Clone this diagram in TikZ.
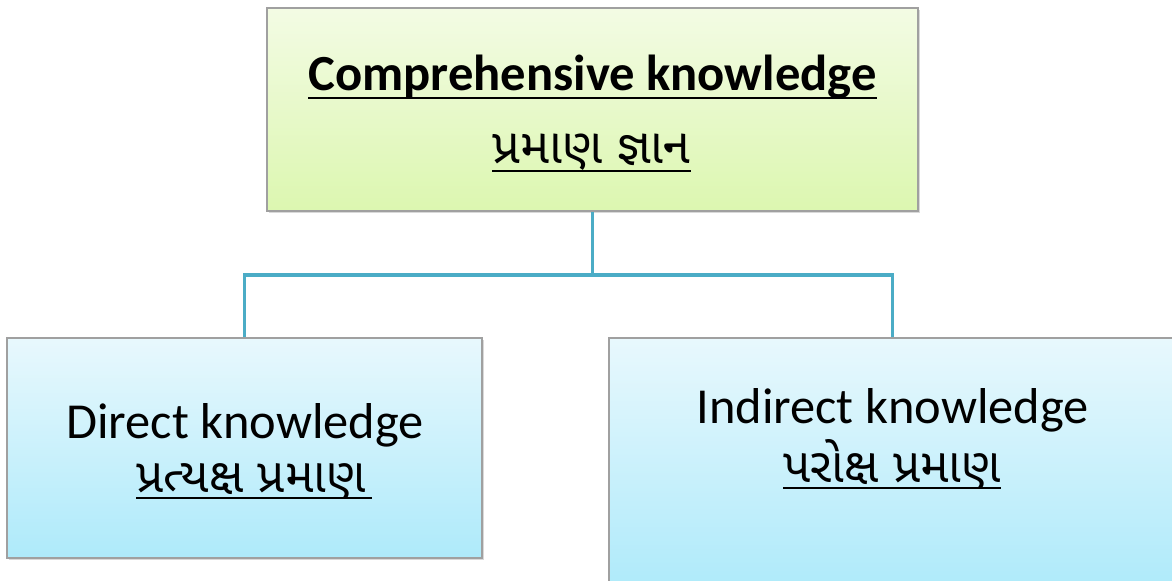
\documentclass[tikz,border=0pt]{standalone}
\usepackage{fontspec}
\setmainfont{Carlito}
\newfontfamily\guj[Script=Gujarati]{Noto Sans Gujarati UI}
\usetikzlibrary{shadows}
\definecolor{conncol}{RGB}{75,172,198}
\definecolor{greentop}{RGB}{243,251,228}
\definecolor{greenbot}{RGB}{220,247,176}
\definecolor{bluetop}{RGB}{232,248,253}
\definecolor{bluebot}{RGB}{174,234,250}
\definecolor{boxborder}{RGB}{160,160,160}
\newcommand\myul[3]{\setbox0\hbox{#3}\rlap{\rule[-#1]{\dimexpr\wd0+#2\relax}{1.2pt}}\box0}
\tikzset{
  box/.style={draw=boxborder, line width=0.6pt, rectangle, inner sep=0pt,
    drop shadow={shadow xshift=1.2pt, shadow yshift=-1.2pt, opacity=0.3}},
  greenbox/.style={box, top color=greentop, bottom color=greenbot},
  bluebox/.style={box, top color=bluetop, bottom color=bluebot},
  conn/.style={draw=conncol, line width=1.6pt},
  lbl/.style={anchor=base, inner sep=0pt, text=black}
}
\begin{document}
\begin{tikzpicture}[x=0.5pt,y=-0.5pt]
\useasboundingbox (0,0) rectangle (1172,580);
\node[greenbox, minimum width=325.5pt, minimum height=101.5pt] (top) at (592.5,109.5) {};
\node[bluebox, minimum width=237.5pt, minimum height=110pt] (left) at (244.5,448) {};
\node[bluebox, minimum width=283.5pt, minimum height=126pt] (right) at (892.5,464) {};
\coordinate (mid) at (592.5,275);
\draw[conn] (top.south) -- (mid);
\draw[conn] (left.north) |- (mid) -| (right.north);
\node[lbl, font=\fontsize{25.3}{29}\selectfont\bfseries] (t1) at (592.5,90) {\myul{4.6pt}{0pt}{Comprehensive knowledge}};
\node[lbl, font=\fontsize{24.5}{28}\guj] (t2) at (591.5,163) {\myul{4.6pt}{0pt}{પ્રમાણ જ્ઞાન}};
\node[lbl, font=\fontsize{25.2}{29}\selectfont] (l1) at (245,438) {Direct knowledge};
\node[lbl, font=\fontsize{24}{28}\guj] (l2) at (251,492) {\myul{3.6pt}{3pt}{પ્રત્યક્ષ પ્રમાણ}};
\node[lbl, font=\fontsize{25.2}{29}\selectfont] (r1) at (892.5,423) {Indirect knowledge};
\node[lbl, font=\fontsize{24}{28}\guj] (r2) at (892,482) {\myul{3.6pt}{0pt}{પરોક્ષ પ્રમાણ}};
\end{tikzpicture}
\end{document}
